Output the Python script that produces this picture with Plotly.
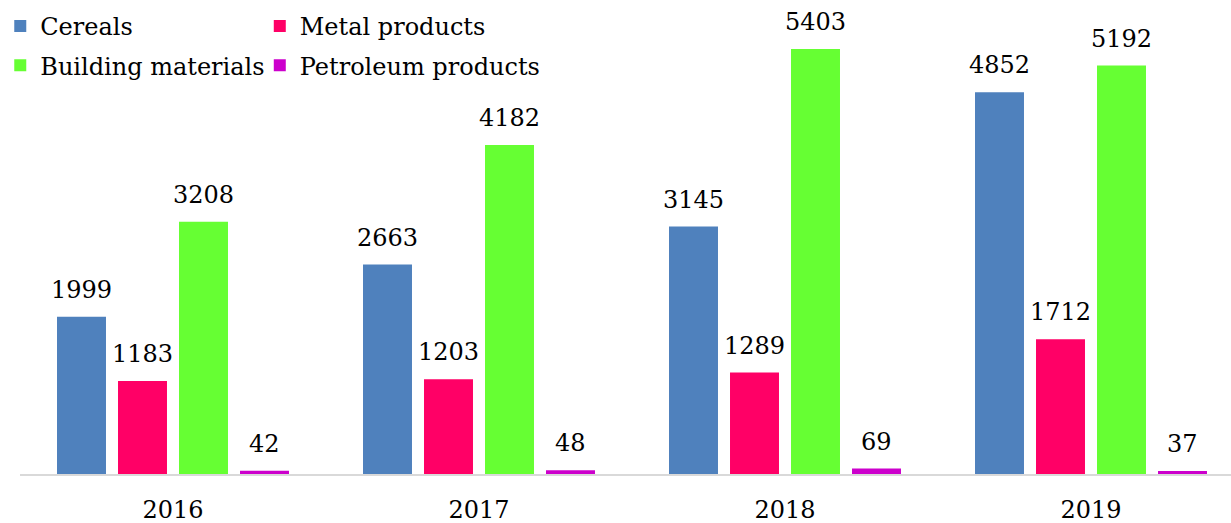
import plotly.graph_objects as go

years = ["2016", "2017", "2018", "2019"]
series_names = ["Cereals", "Metal products", "Building materials", "Petroleum products"]
cereals = [1999, 2663, 3145, 4852]
metal = [1183, 1203, 1289, 1712]
building = [3208, 4182, 5403, 5192]
petroleum = [42, 48, 69, 37]
colors = ["#4F81BD", "#FF0066", "#66FF33", "#CC00CC"]

values = [cereals, metal, building, petroleum]
FONT = "DejaVu Serif"
FS = 24
BARGAP = 0.2026
nser = len(values)

fig = go.Figure()
legends = ["legend", "legend2", "legend", "legend2"]
for i, (name, vals, col) in enumerate(zip(series_names, values, colors)):
    fig.add_trace(go.Bar(
        x=list(range(len(years))), y=vals, name=name, marker_color=col,
        marker_line_width=0, legend=legends[i], legendgroup=name,
    ))
    slot = (1 - BARGAP) / nser
    for ci, v in enumerate(vals):
        fig.add_annotation(
            x=ci + (i - (nser - 1) / 2) * slot, y=v, xref="x", yref="y",
            text=str(v), showarrow=False, yanchor="bottom", yshift=11,
            font=dict(family=FONT, size=FS, color="black"),
        )

leg_common = dict(y=0.9916, xanchor="left", yanchor="top", orientation="v",
                  bgcolor="rgba(0,0,0,0)", traceorder="grouped", tracegroupgap=5,
                  font=dict(family=FONT, size=FS, color="black"), itemwidth=30)

fig.update_layout(
    template="none",
    width=1231, height=523,
    margin=dict(l=20, r=0, t=0, b=49),
    paper_bgcolor="white", plot_bgcolor="white",
    barmode="group", bargap=BARGAP, bargroupgap=0.197,
    font=dict(family=FONT, size=FS, color="black"),
    legend=dict(x=-0.0163, **leg_common),
    legend2=dict(x=0.198, **leg_common),
    xaxis=dict(tickmode="array", tickvals=list(range(len(years))), ticktext=years,
               range=[-0.5, -0.5 + 1211 / 306], showline=True, linecolor="#D9D9D9",
               linewidth=2, ticks="", showgrid=False, zeroline=False,
               automargin=False, ticklabelstandoff=13,
               tickfont=dict(family=FONT, size=FS, color="black")),
    yaxis=dict(range=[0, 6026], visible=False, showgrid=False, zeroline=False,
               automargin=False),
)

fig.write_html("out.html")
